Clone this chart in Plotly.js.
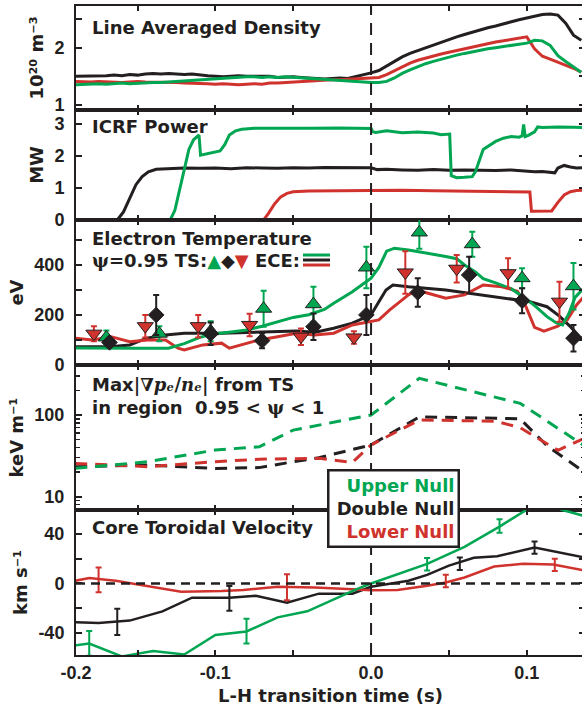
<!DOCTYPE html>
<html><head><meta charset="utf-8">
<script src="https://cdn.plot.ly/plotly-3.0.1.min.js"></script>
<style>html,body{margin:0;padding:0;overflow:hidden;background:#fff}#chart{width:585px;height:708px}</style>
</head><body><div id="chart"></div><script>
// ---------- DATA ----------
// Panel 1: line averaged density (1e20 m^-3)
const tDen = [-0.19,-0.185,-0.18,-0.175,-0.17,-0.165,-0.16,-0.155,-0.15,-0.145,-0.14,-0.135,-0.13,-0.125,-0.12,-0.115,-0.11,-0.105,-0.1,-0.095,-0.09,-0.085,-0.08,-0.075,-0.07,-0.065,-0.06,-0.055,-0.05,-0.045,-0.04,-0.035,-0.03,-0.025,-0.02,-0.015,-0.01,-0.005,0,0.005,0.01,0.015,0.02,0.025,0.03,0.035,0.04,0.045,0.05,0.055,0.06,0.065,0.07,0.075,0.08,0.085,0.09,0.095,0.1,0.105,0.11,0.115,0.12,0.125,0.13,0.135];
const denDouble = [1.50,1.50,1.51,1.50,1.51,1.52,1.51,1.53,1.52,1.54,1.55,1.54,1.55,1.54,1.53,1.54,1.52,1.51,1.50,1.49,1.50,1.51,1.50,1.50,1.49,1.50,1.48,1.49,1.49,1.48,1.47,1.46,1.45,1.46,1.47,1.46,1.49,1.52,1.56,1.60,1.68,1.76,1.84,1.90,1.95,2.00,2.05,2.10,2.14,2.19,2.23,2.27,2.32,2.35,2.38,2.42,2.46,2.49,2.52,2.55,2.58,2.59,2.57,2.43,2.22,2.13];
const denLower = [1.41,1.40,1.40,1.41,1.40,1.40,1.39,1.40,1.41,1.40,1.40,1.39,1.40,1.39,1.38,1.38,1.38,1.37,1.36,1.37,1.36,1.35,1.36,1.37,1.36,1.38,1.38,1.39,1.39,1.40,1.41,1.42,1.43,1.44,1.44,1.45,1.45,1.46,1.47,1.48,1.53,1.60,1.67,1.73,1.78,1.82,1.86,1.89,1.92,1.95,1.99,2.02,2.05,2.08,2.10,2.12,2.14,2.17,2.19,1.98,1.85,1.80,1.75,1.70,1.64,1.57];
const denUpper = [1.35,1.36,1.36,1.37,1.36,1.37,1.38,1.37,1.38,1.38,1.39,1.39,1.40,1.40,1.41,1.42,1.43,1.45,1.46,1.47,1.48,1.48,1.49,1.49,1.48,1.49,1.48,1.49,1.48,1.47,1.47,1.46,1.45,1.44,1.43,1.42,1.41,1.40,1.39,1.39,1.41,1.47,1.55,1.61,1.67,1.72,1.76,1.80,1.84,1.87,1.90,1.93,1.96,1.98,2.00,2.02,2.04,2.06,2.08,2.13,2.12,2.04,1.86,1.76,1.67,1.57];

// Panel 2: ICRF power (MW)
const tRfDouble = [-0.19,-0.163,-0.159,-0.155,-0.151,-0.147,-0.143,-0.138,-0.13,-0.12,-0.11,-0.1,-0.09,-0.08,-0.07,-0.06,-0.05,-0.04,-0.03,-0.02,-0.01,0,0.004,0.01,0.02,0.03,0.04,0.05,0.06,0.07,0.08,0.09,0.1,0.105,0.11,0.115,0.118,0.12,0.124,0.128,0.132,0.137];
const rfDouble = [0,0,0.25,0.7,1.1,1.35,1.5,1.58,1.6,1.62,1.61,1.62,1.6,1.63,1.62,1.61,1.63,1.62,1.64,1.63,1.64,1.63,1.57,1.58,1.56,1.55,1.57,1.55,1.56,1.55,1.54,1.56,1.52,1.50,1.51,1.48,1.47,1.62,1.70,1.65,1.62,1.63];
const tRfUpper = [-0.19,-0.129,-0.126,-0.123,-0.12,-0.117,-0.114,-0.1105,-0.1095,-0.105,-0.1,-0.097,-0.094,-0.091,-0.087,-0.083,-0.075,-0.06,-0.04,-0.02,0,0.001,0.003,0.01,0.02,0.03,0.04,0.045,0.049,0.0505,0.0515,0.055,0.06,0.065,0.067,0.072,0.08,0.085,0.09,0.095,0.097,0.098,0.099,0.101,0.105,0.107,0.11,0.12,0.13,0.137];
const rfUpper = [0,0,0.3,0.9,1.6,2.2,2.5,2.65,2.02,2.07,2.12,2.15,2.35,2.65,2.78,2.83,2.86,2.87,2.86,2.87,2.85,2.75,2.73,2.78,2.72,2.74,2.71,2.66,2.68,2.68,1.38,1.32,1.33,1.35,1.5,2.2,2.45,2.55,2.6,2.58,2.62,2.98,2.6,2.64,2.75,2.9,2.88,2.9,2.89,2.88];
const tRfLower = [-0.19,-0.069,-0.066,-0.062,-0.058,-0.054,-0.05,-0.045,-0.04,-0.02,0,0.02,0.04,0.06,0.08,0.1,0.102,0.103,0.11,0.116,0.12,0.124,0.128,0.132,0.137];
const rfLower = [0,0,0.2,0.5,0.72,0.83,0.88,0.9,0.9,0.91,0.92,0.93,0.91,0.9,0.89,0.88,0.87,0.27,0.27,0.28,0.55,0.78,0.88,0.92,0.93];

// Panel 3: electron temperature (eV), ECE traces
const tEceUpper = [-0.19,-0.17,-0.15,-0.13,-0.12,-0.11,-0.1,-0.09,-0.08,-0.07,-0.06,-0.05,-0.04,-0.03,-0.024,-0.012,0,0.005,0.01,0.015,0.024,0.036,0.048,0.055,0.06,0.067,0.072,0.08,0.09,0.1,0.106,0.113,0.119,0.123,0.127,0.131,0.137];
const eceUpper = [68,69,67,67,85,110,125,132,140,155,173,190,201,222,247,293,347,390,455,467,460,448,434,425,400,372,345,328,305,262,232,193,168,160,205,270,310];
const tEceDouble = [-0.19,-0.168,-0.155,-0.144,-0.132,-0.12,-0.096,-0.072,-0.048,-0.036,-0.024,-0.012,0,0.005,0.0096,0.014,0.024,0.048,0.07,0.091,0.102,0.113,0.121,0.128,0.134,0.137];
const eceDouble = [73,73,80,107,120,127,127,133,136,131,147,167,200,253,300,320,313,300,280,262,253,233,195,153,113,100];
const tEceLower = [-0.19,-0.179,-0.167,-0.155,-0.1435,-0.132,-0.124,-0.12,-0.108,-0.096,-0.091,-0.084,-0.072,-0.06,-0.048,-0.036,-0.024,-0.012,-0.002,0.005,0.012,0.024,0.029,0.036,0.048,0.06,0.072,0.084,0.094,0.099,0.105,0.111,0.12,0.126,0.132,0.137];
const eceLower = [107,100,113,93,100,100,67,60,80,87,67,80,100,113,127,120,127,160,173,180,220,280,300,287,267,280,320,313,295,240,150,135,155,180,240,275];

// Panel 3: Thomson scattering points (eV) with error bars
const tTsUpper = [-0.170,-0.136,-0.103,-0.069,-0.037,-0.003,0.031,0.065,0.097,0.130];
const tsUpper = [110,125,135,225,243,390,530,483,347,315];
const tsUpperErr = [28,30,40,72,70,83,65,50,40,93];
const tTsDouble = [-0.168,-0.138,-0.103,-0.070,-0.037,-0.003,0.030,0.063,0.097,0.130];
const tsDouble = [90,200,125,97,153,200,290,360,257,107];
const tsDoubleErr = [15,80,45,30,53,80,57,73,50,53];
const tTsLower = [-0.178,-0.145,-0.111,-0.078,-0.045,-0.011,0.022,0.055,0.088,0.121];
const tsLower = [125,155,155,160,113,110,370,385,367,253];
const tsLowerErr = [30,45,45,45,33,25,85,55,60,80];

// Panel 4: max |grad pe / ne| (keV/m)
const tGradUpper = [-0.19,-0.1435,-0.100,-0.0718,-0.050,0,0.031,0.0957,0.137];
const gradUpper = [22.2,26.8,37.3,40.9,65.4,100,281,139,42];
const tGradDouble = [-0.19,-0.1435,-0.100,-0.0718,-0.050,-0.0335,0,0.031,0.0957,0.113,0.137];
const gradDouble = [23.3,24.4,22.2,22.7,26.8,30,43,95,90,42,20];
const tGradLower = [-0.19,-0.1435,-0.100,-0.0718,-0.0335,-0.012,0,0.031,0.08,0.0957,0.12,0.137];
const gradLower = [25.6,23.3,26.8,28.8,29.5,26.3,43,87,84,70,37,52];

// Panel 5: core toroidal velocity (km/s)
const tVelUpper = [-0.19,-0.181,-0.160,-0.140,-0.120,-0.100,-0.080,-0.060,-0.041,-0.024,-0.0096,0,0.024,0.036,0.06,0.0825,0.1,0.112,0.123,0.137];
const velUpper = [-50,-48.5,-59,-54.5,-57.4,-41.6,-38.8,-27.4,-22.5,-12.9,-4.7,0,10.4,15.9,29.6,46,59.7,66,59.4,54.5];
const tVelDouble = [-0.19,-0.175,-0.155,-0.134,-0.115,-0.091,-0.074,-0.054,-0.0335,-0.012,0,0.024,0.036,0.05,0.066,0.081,0.105,0.137];
const velDouble = [-31.2,-32,-30,-22.5,-11.5,-11.5,-10,-15.6,-8.2,-8.2,-2.7,2.2,7,14.5,20.8,22,29,21];
const tVelLower = [-0.19,-0.181,-0.164,-0.143,-0.122,-0.096,-0.082,-0.06,-0.036,-0.012,0,0.017,0.036,0.048,0.06,0.079,0.0977,0.117,0.137];
const velLower = [2.2,4.4,2.2,-1.9,-6.6,-6.0,-5.2,-2.7,-3.3,-4.7,-5.5,-5.2,-1.9,0.8,4.9,13.7,16.0,15.4,10.5];
const tVelErrUpper = [-0.181,-0.080,0.036,0.0825];
const velErrUpperV = [-48.5,-38.5,15.6,46.5];
const velErrUpper = [10,10,5,5.5];
const tVelErrDouble = [-0.163,-0.091,0.057,0.105];
const velErrDoubleV = [-31,-12,16,29];
const velErrDouble = [10.6,10,5,5];
const tVelErrLower = [-0.175,-0.054,0.048,0.118];
const velErrLowerV = [3,-3,2,15];
const velErrLower = [10,10.5,5,5];

// Tick labels
const xTickVals = [-0.1895,-0.1,0,0.1];
const xTickText = ['-0.2','-0.1','0.0','0.1'];
const xMinorVals = [-0.15,-0.05,0.05];
const seriesNames = ['Upper Null','Double Null','Lower Null'];

// ---------- STYLE ----------
const G = '#00a651', K = '#231f20', R = '#d0332e';
const TXT = {family:'DejaVu Sans', size:18, weight:'bold', color:K};
const TICK = {family:'Liberation Sans, Arial', size:18, weight:'bold', color:K};

function ln(x, y, col, n, w, dash) {
  return {x:x, y:y, type:'scatter', mode:'lines', xaxis:'x'+(n===1?'':n), yaxis:'y'+(n===1?'':n),
    line:{color:col, width:w||3, dash:dash||'solid'}, hoverinfo:'skip'};
}
function ts(x, y, e, col, sym, size) {
  return {x:x, y:y, type:'scatter', mode:'markers', xaxis:'x3', yaxis:'y3',
    marker:{symbol:sym, size:size, color:col, line:{color:K, width:1}},
    error_y:{type:'data', array:e, visible:true, color:col, thickness:2, width:3}, hoverinfo:'skip'};
}
function eb(x, y, e, col) {
  return {x:x, y:y, type:'scatter', mode:'markers', xaxis:'x5', yaxis:'y5',
    marker:{size:1, color:col, opacity:0},
    error_y:{type:'data', array:e, visible:true, color:col, thickness:2, width:3}, hoverinfo:'skip'};
}

const traces = [
  ln(tDen, denDouble, K, 1), ln(tDen, denLower, R, 1), ln(tDen, denUpper, G, 1),
  ln(tRfDouble, rfDouble, K, 2), ln(tRfLower, rfLower, R, 2), ln(tRfUpper, rfUpper, G, 2),
  ln(tEceDouble, eceDouble, K, 3), ln(tEceLower, eceLower, R, 3), ln(tEceUpper, eceUpper, G, 3),
  ts(tTsLower, tsLower, tsLowerErr, R, 'triangle-down', 14),
  ts(tTsUpper, tsUpper, tsUpperErr, G, 'triangle-up', 14),
  ts(tTsDouble, tsDouble, tsDoubleErr, K, 'diamond', 12),
  ln(tGradDouble, gradDouble, K, 4, 3, '12px,8px'), ln(tGradLower, gradLower, R, 4, 3, '12px,8px'), ln(tGradUpper, gradUpper, G, 4, 3, '12px,8px'),
  ln(tVelDouble, velDouble, K, 5, 2.5), ln(tVelLower, velLower, R, 5, 2.5), ln(tVelUpper, velUpper, G, 5, 2.5),
  eb(tVelErrDouble, velErrDoubleV, velErrDouble, K), eb(tVelErrLower, velErrLowerV, velErrLower, R), eb(tVelErrUpper, velErrUpperV, velErrUpper, G)
];

const domains = [[0.8398,1],[0.6703,0.8398],[0.4468,0.6703],[0.2234,0.4468],[0,0.2234]];
const layout = {
  width:585, height:708, showlegend:false,
  margin:{l:76, r:0, t:6, b:53},
  paper_bgcolor:'#fff', plot_bgcolor:'#fff',
  font:TICK, shapes:[], annotations:[]
};
const MINOR = {ticks:'inside', ticklen:6, tickwidth:2, tickcolor:K, showgrid:false};
const yCfg = [
  {range:[0.91,2.73], tickvals:[1,2], ticktext:['1','2'], minorv:[1.5,2.5], title:'10²⁰ m⁻³'},
  {range:[0,3.43], tickvals:[0,1,2,3], ticktext:['0','1','2','3'], title:'MW'},
  {range:[-0.5,580], tickvals:[0,200,400], ticktext:['0','200','400'], minorv:[100,300,500], title:'eV'},
  {type:'log', range:[0.837,2.612], tickvals:[10,100], ticktext:['10','100'], title:'keV m⁻¹',
   minor:{tickvals:[8,9,20,30,40,50,60,70,80,90,200,300,400], ticks:'inside', ticklen:4, tickwidth:1.5, tickcolor:K, showgrid:false}},
  {range:[-57.8,59.4], tickvals:[-40,0,40], ticktext:['-40','0','40'], minorv:[-20,20], title:'km s⁻¹'}
];
for (let i = 1; i <= 5; i++) {
  const s = i === 1 ? '' : String(i);
  const c = yCfg[i-1];
  layout['xaxis'+s] = {domain:[0,1], anchor:'y'+s, range:[-0.1895,0.1374], tickmode:'array',
    tickvals:xTickVals, ticktext:xTickText, showticklabels:i===5, ticks:'inside', ticklen:5, tickwidth:2,
    tickcolor:K, showline:true, linewidth:2, linecolor:K, mirror:'ticks', showgrid:false, zeroline:false,
    tickfont:TICK, minor:Object.assign({tickvals:xMinorVals}, MINOR, {ticklen:5})};
  const ya = {domain:domains[i-1], anchor:'x'+s, range:c.range, tickmode:'array', tickvals:c.tickvals,
    ticktext:c.ticktext, ticks:'inside', ticklen:6, tickwidth:2, tickcolor:K, showline:true, linewidth:2,
    linecolor:K, mirror:'ticks', showgrid:false, zeroline:false, tickfont:TICK, ticklabelstandoff:6,
    ticklabeloverflow:'allow', title:{text:c.title, font:TXT, standoff:6}};
  if (c.type) ya.type = c.type;
  if (c.minor) ya.minor = c.minor;
  if (c.minorv) ya.minor = Object.assign({tickvals:c.minorv}, MINOR);
  layout['yaxis'+s] = ya;
}
layout.xaxis5.title = {text:'L-H transition time (s)', font:TXT, standoff:8};

// dashed reference lines
layout.shapes.push({type:'line', xref:'x', yref:'paper', x0:0, x1:0, y0:0, y1:1, line:{color:K, width:2, dash:'12px,8px'}});
layout.shapes.push({type:'line', xref:'paper', yref:'y5', x0:0, x1:1, y0:0, y1:0, line:{color:K, width:2.5, dash:'9px,6px'}});
// ECE legend swatch
[[0.6163,G],[0.6086,K],[0.6009,R]].forEach(function(p){
  layout.shapes.push({type:'line', xref:'paper', yref:'paper', x0:0.446, x1:0.499, y0:p[0], y1:p[0], line:{color:p[1], width:3}});
});

function ann(text, x, y, extra) {
  const a = Object.assign({text:text, xref:'paper', yref:'paper', x:x, y:y, xanchor:'left', yanchor:'middle',
    showarrow:false, font:TXT, align:'left'}, extra||{});
  layout.annotations.push(a);
}
const SER = "<span style=\"font-family:'DejaVu Serif',serif\">";
ann('Line Averaged Density', 0.0275, 0.9676);
ann('ICRF Power', 0.0275, 0.8151);
ann('Electron Temperature', 0.0275, 0.6425);
ann(SER + 'ψ</span>=0.95 TS:<span style="color:' + G + '">▲</span>◆<span style="color:' + R + '">▼</span> ECE:', 0.0275, 0.6071);
ann('Max' + SER + '|∇<i>pₑ</i>/<i>nₑ</i>|</span> from TS', 0.0275, 0.4160);
ann('in region  0.95 &lt; ' + SER + 'ψ</span> &lt; 1', 0.0275, 0.3806);
ann('Core Toroidal Velocity', 0.0275, 0.1972);
ann('<span style="color:' + G + '">' + seriesNames[0] + '</span><br>' + seriesNames[1] + '<br><span style="color:' + R + '">' + seriesNames[2] + '</span>',
  0.6238, 0.2250, {xanchor:'center', align:'right', bgcolor:'#fff', bordercolor:K, borderwidth:2.5, borderpad:3, width:122});

Plotly.newPlot('chart', traces, layout, {displayModeBar:false, staticPlot:true});
</script></body></html>
